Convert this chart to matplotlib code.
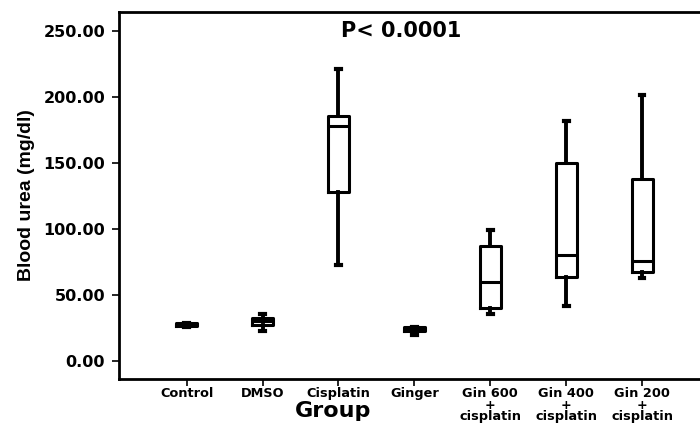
import matplotlib
matplotlib.use("Agg")
import matplotlib.pyplot as plt

groups = ["Control", "DMSO", "Cisplatin", "Ginger",
          "Gin 600\n+\ncisplatin", "Gin 400\n+\ncisplatin", "Gin 200\n+\ncisplatin"]
whisker_low = [25.5, 22.7, 72.7, 19.7, 35.6, 41.7, 63.0]
q1 = [26.5, 27.3, 128.0, 22.5, 40.0, 63.6, 67.5]
median = [28.0, 30.3, 178.0, 24.0, 60.0, 80.0, 75.8]
q3 = [29.0, 32.5, 185.6, 25.8, 87.0, 150.0, 138.0]
whisker_high = [29.0, 36.0, 221.0, 26.0, 99.0, 182.0, 201.5]
y_ticks = [0, 50, 100, 150, 200, 250]

stats = []
for i, name in enumerate(groups):
    stats.append(dict(label=name, whislo=whisker_low[i], q1=q1[i], med=median[i],
                      q3=q3[i], whishi=whisker_high[i], fliers=[]))

fig = plt.figure(figsize=(7, 4.25), dpi=100)
ax = fig.add_axes([0.17, 0.108, 0.845, 0.864])

lw = 2.2
ax.bxp(stats, positions=range(1, 8), widths=0.28, capwidths=0.06,
       showfliers=False, patch_artist=False,
       boxprops=dict(color="black", linewidth=lw),
       medianprops=dict(color="black", linewidth=lw),
       whiskerprops=dict(color="black", linewidth=lw + 0.6),
       capprops=dict(color="black", linewidth=lw + 0.8))

ax.set_xlim(0.11, 7.9)
ax.set_ylim(-13.6, 264.4)
ax.set_yticks(y_ticks)
ax.set_yticklabels(["%.2f" % v for v in y_ticks], fontsize=11.5,
                   fontweight="bold", family="DejaVu Sans")
ax.set_xticks(range(1, 8))
ax.set_xticklabels(groups, fontsize=9.3, fontweight="bold",
                   family="DejaVu Sans", linespacing=0.82)

for s in ax.spines.values():
    s.set_linewidth(2)
ax.tick_params(axis="both", direction="out", length=5, width=1.2)
ax.tick_params(axis="x", pad=1)
ax.tick_params(axis="y", pad=5)

ax.set_ylabel("Blood urea (mg/dl)", fontsize=14, fontweight="bold",
              family="Liberation Sans", labelpad=6)
fig.text(333 / 700, 1 - 411 / 425, "Group", fontsize=16, fontweight="bold",
         family="DejaVu Sans", ha="center", va="center")
ax.text(3.82, 250, "P< 0.0001", fontsize=15, fontweight="bold",
        family="DejaVu Sans", ha="center", va="center")

fig.savefig("out.png", dpi=100)
